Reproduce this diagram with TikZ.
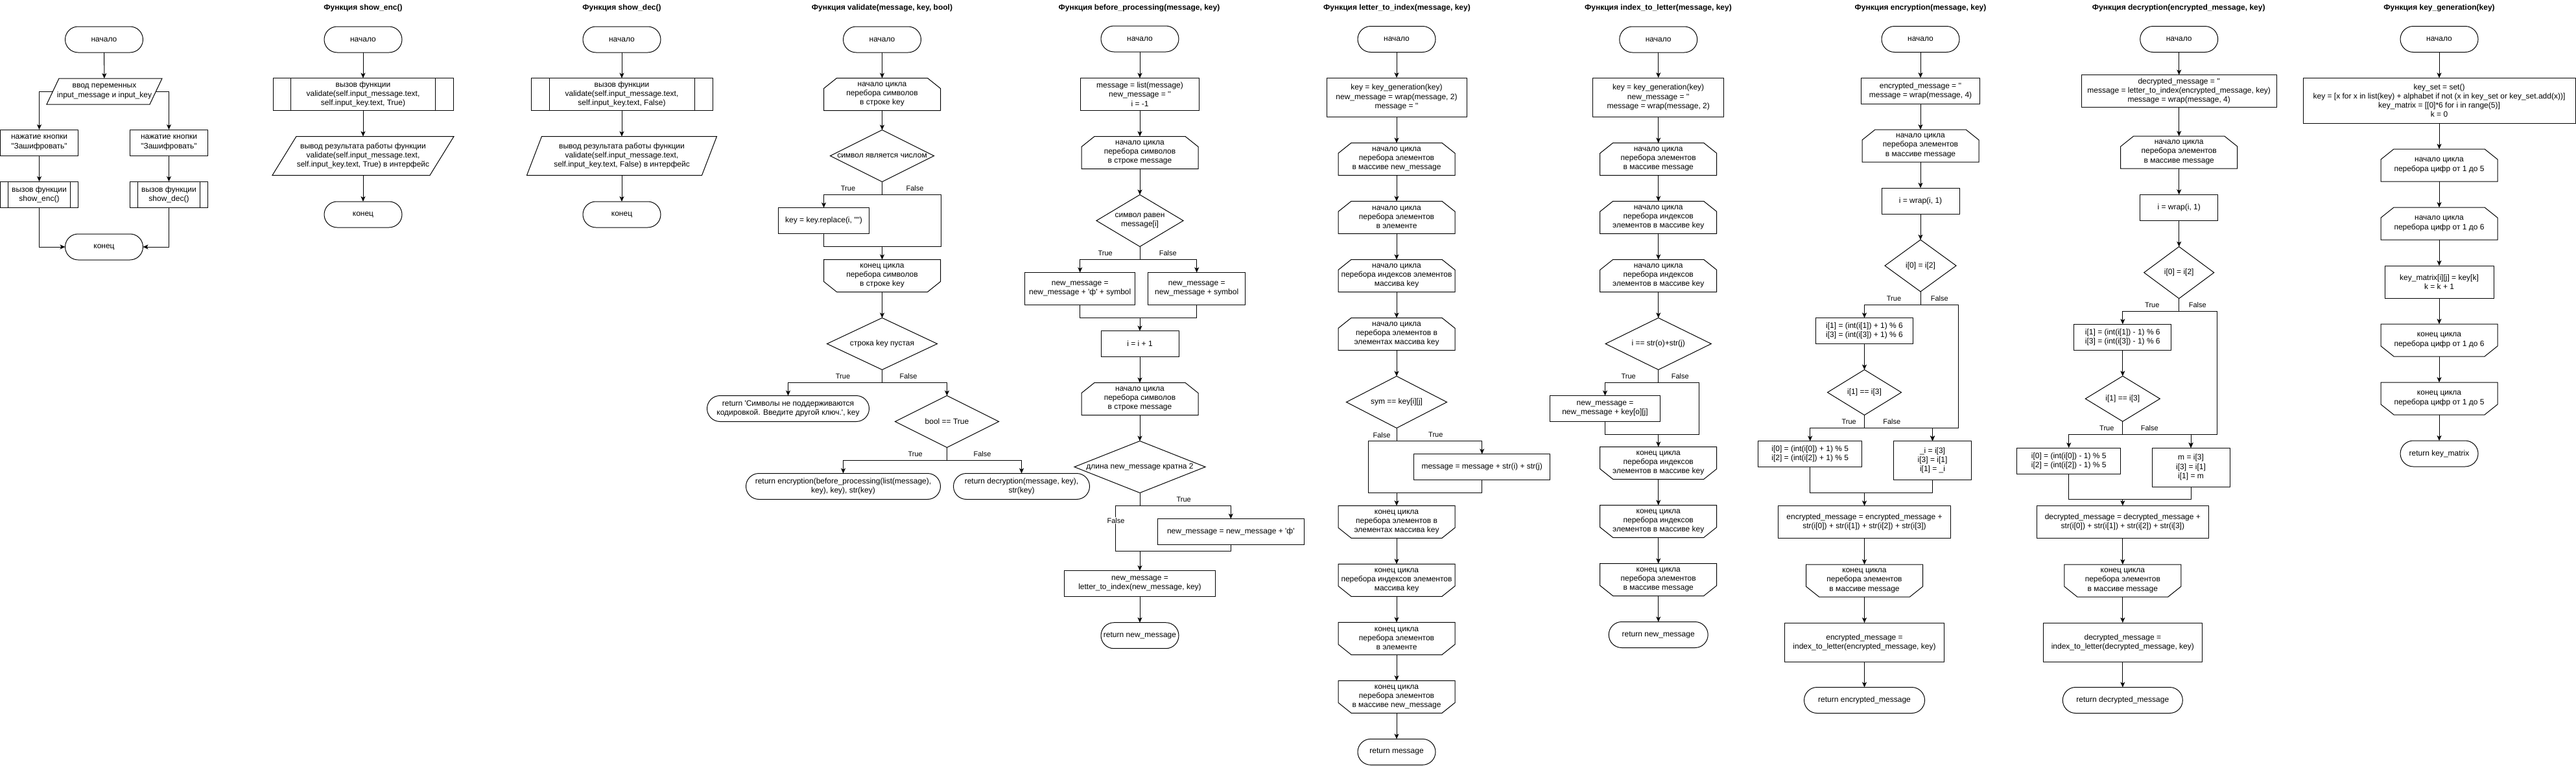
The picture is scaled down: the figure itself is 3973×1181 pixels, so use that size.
\documentclass[tikz,border=0pt]{standalone}
\usepackage{fontspec}
\newfontfamily\fcfont{Liberation Sans}
\usetikzlibrary{arrows.meta}
\newcommand\fcbody{\fcfont\fontsize{12}{14.2}\selectfont}
\newcommand\fclab{\fcfont\fontsize{11}{13}\selectfont}
\newcommand\fctitle{\fcfont\bfseries\fontsize{12}{14}\selectfont}
\tikzset{
  base/.style={inner sep=0pt, outer sep=0pt, align=center, font=\fcbody},
  proc/.style={base, draw, line width=1pt},
  term/.style={proc, rounded corners=20pt},
  shp/.style={draw, line width=1pt, line join=miter},
  ln/.style={line width=1pt},
  arr/.style={line width=1pt, -{Stealth[length=8pt,width=7pt,inset=2pt]}},
  lbl/.style={font=\fclab, inner sep=1pt},
  lblw/.style={lbl, fill=white},
  ttl/.style={font=\fctitle, inner sep=0pt},
}
\newcommand\fcTerm[6]{\node[term,minimum width=#4,minimum height=#5] (#1) at (#2,#3) {#6};}
\newcommand\fcProc[6]{\node[proc,minimum width=#4,minimum height=#5] (#1) at (#2,#3) {#6};}
\newcommand\fcSub[6]{\node[proc,minimum width=#4,minimum height=#5] (#1) at (#2,#3) {#6};
  \draw[shp] ([xshift={#4/10}]#1.north west) -- ([xshift={#4/10}]#1.south west)
             ([xshift={-#4/10}]#1.north east) -- ([xshift={-#4/10}]#1.south east);}
\newcommand\fcDia[6]{\node[base,minimum width=#4,minimum height=#5] (#1) at (#2,#3) {#6};
  \draw[shp] (#1.north) -- (#1.east) -- (#1.south) -- (#1.west) -- cycle;}
\newcommand\fcLoopS[6]{\node[base,minimum width=#4,minimum height=#5] (#1) at (#2,#3) {#6};
  \draw[shp] ([xshift=20]#1.north west) -- ([xshift=-20]#1.north east) -- ([yshift=-16]#1.north east)
     -- (#1.south east) -- (#1.south west) -- ([yshift=-16]#1.north west) -- cycle;}
\newcommand\fcLoopE[6]{\node[base,minimum width=#4,minimum height=#5] (#1) at (#2,#3) {#6};
  \draw[shp] (#1.north west) -- (#1.north east) -- ([yshift=16]#1.south east)
     -- ([xshift=-20]#1.south east) -- ([xshift=20]#1.south west) -- ([yshift=16]#1.south west) -- cycle;}
% name, x, y, mid width, height, slant, text
\newcommand\fcPara[7]{\node[base,minimum width=#4,minimum height=#5] (#1) at (#2,#3) {#7};
  \draw[shp] ([xshift={#6/2}]#1.north west) -- ([xshift={#6/2}]#1.north east)
     -- ([xshift={-#6/2}]#1.south east) -- ([xshift={-#6/2}]#1.south west) -- cycle;}
\begin{document}
\begin{tikzpicture}[x=1pt,y=-1pt]
\useasboundingbox (0,0) rectangle (3973,1181);
\fill[white] (0,0) rectangle (3973,1181);

% ================= main
\fcTerm{m0}{160.5}{61}{120}{40}{начало}
\fcPara{m1}{161}{141}{159}{40}{19}{ввод переменных\\input\_message и input\_key}
\fcProc{m2}{60.5}{220}{120}{40}{нажатие кнопки\\"Зашифровать"}
\fcProc{m3}{260.5}{220}{120}{40}{нажатие кнопки\\"Зашифровать"}
\fcSub{m4}{60.5}{300}{120}{40}{вызов функции\\show\_enc()}
\fcSub{m5}{260.5}{300}{120}{40}{вызов функции\\show\_dec()}
\fcTerm{m6}{160.5}{381}{120}{40}{конец}
\draw[arr] (m0) -- (m1);
\draw[arr] (m1.west) -| (m2.north);
\draw[arr] (m1.east) -| (m3.north);
\draw[arr] (m2) -- (m4);
\draw[arr] (m3) -- (m5);
\draw[arr] (m4.south) |- (m6.west);
\draw[arr] (m5.south) |- (m6.east);

% ================= show_enc
\node[ttl] (ta) at (560,12) {Функция show\_enc()};
\fcTerm{a0}{560}{61}{120}{40}{начало}
\fcSub{a1}{560}{145.5}{278}{50}{вызов функции\\validate(self.input\_message.text,\\self.input\_key.text, True)}
\fcPara{a2}{560}{240.5}{243}{60}{37}{вывод результата работы функции\\validate(self.input\_message.text,\\self.input\_key.text, True) в интерфейс}
\fcTerm{a3}{560}{331}{120}{40}{конец}
\draw[arr] (a0) -- (a1);
\draw[arr] (a1) -- (a2);
\draw[arr] (a2) -- (a3);

% ================= show_dec
\node[ttl] (tb) at (959,12) {Функция show\_dec()};
\fcTerm{b0}{959}{61}{120}{40}{начало}
\fcSub{b1}{959}{145.5}{280}{50}{вызов функции\\validate(self.input\_message.text,\\self.input\_key.text, False)}
\fcPara{b2}{959}{240.5}{270}{60}{23}{вывод результата работы функции\\validate(self.input\_message.text,\\self.input\_key.text, False) в интерфейс}
\fcTerm{b3}{959}{331}{120}{40}{конец}
\draw[arr] (b0) -- (b1);
\draw[arr] (b1) -- (b2);
\draw[arr] (b2) -- (b3);

% ================= validate
\node[ttl] (tv) at (1360.5,12) {Функция validate(message, key, bool)};
\fcTerm{v0}{1360.5}{61}{120}{40}{начало}
\fcLoopS{v1}{1360.5}{145.5}{180}{50}{начало цикла\\перебора символов\\в строке key}
\fcDia{v2}{1360.5}{240.5}{160}{80}{символ является числом}
\fcProc{v3}{1270.5}{340.5}{140}{40}{key = key.replace(i, "")}
\coordinate (v3j) at (1360.5,380);
\coordinate (v3r) at (1451,380);
\fcLoopE{v4}{1360.5}{425.5}{180}{50}{конец цикла\\перебора символов\\в строке key}
\fcDia{v5}{1360.5}{530.5}{170}{80}{строка key пустая}
\fcTerm{v6}{1215.5}{630.5}{250}{40}{return 'Символы не поддерживаются\\кодировкой. Введите другой ключ.', key}
\fcDia{v7}{1460.5}{650.5}{160}{80}{bool == True}
\fcTerm{v8}{1300.5}{750.5}{300}{40}{return encryption(before\_processing(list(message),\\key), key), str(key)}
\fcTerm{v9}{1575.5}{750.5}{210}{40}{return decryption(message, key),\\str(key)}
\draw[arr] (v0) -- (v1);
\draw[arr] (v1) -- (v2);
\draw[arr] (v2.south) -- ++(0,20) -| (v3.north);
\draw[ln] (v2.south) -- ++(0,20) -| (v3r) -- (v3j);
\draw[ln] (v3.south) |- (v3j);
\draw[arr] (v3j) -- (v4.north);
\draw[arr] (v4) -- (v5);
\draw[arr] (v5.south) -- ++(0,20) -| (v6.north);
\draw[arr] (v5.south) -- ++(0,20) -| (v7.north);
\draw[arr] (v7.south) -- ++(0,20) -| (v8.north);
\draw[arr] (v7.south) -- ++(0,20) -| (v9.north);
\node[lbl] (vl1) at (1308,291) {True};
\node[lbl] (vl2) at (1411,291) {False};
\node[lbl] (vl3) at (1300,581) {True};
\node[lbl] (vl4) at (1401,581) {False};
\node[lbl] (vl5) at (1411.7,701) {True};
\node[lbl] (vl6) at (1515,701) {False};

% ================= before_processing
\node[ttl] (tp) at (1757,12) {Функция before\_processing(message, key)};
\fcTerm{p0}{1758}{60}{120}{40}{начало}
\fcProc{p1}{1758}{145.5}{183}{50}{message = list(message)\\new\_message = ''\\i = -1}
\fcLoopS{p2}{1758}{235.5}{180}{50}{начало цикла\\перебора символов\\в строке message}
\fcDia{p3}{1758}{340.5}{134}{80}{символ равен\\message[i]}
\fcProc{p4}{1665.7}{445.5}{170}{50}{new\_message =\\new\_message + 'ф' + symbol}
\fcProc{p5}{1845.7}{445.5}{150}{50}{new\_message =\\new\_message + symbol}
\coordinate (p45) at (1758,490.5);
\fcProc{p6}{1758}{530.5}{120}{40}{i = i + 1}
\fcLoopS{p7}{1758}{615.5}{180}{50}{начало цикла\\перебора символов\\в строке message}
\fcDia{p8}{1758}{720.5}{202}{80}{длина new\_message кратна 2}
\fcProc{p9}{1898.3}{820.5}{226}{40}{new\_message = new\_message + 'ф'}
\coordinate (p8l) at (1720.7,850.5);
\coordinate (p9j) at (1758,850.5);
\fcProc{p10}{1758}{900.5}{233}{40}{new\_message =\\letter\_to\_index(new\_message, key)}
\fcTerm{p11}{1758}{980.7}{120}{40}{return new\_message}
\draw[arr] (p0) -- (p1);
\draw[arr] (p1) -- (p2);
\draw[arr] (p2) -- (p3);
\draw[arr] (p3.south) -- ++(0,20) -| (p4.north);
\draw[arr] (p3.south) -- ++(0,20) -| (p5.north);
\draw[ln] (p4.south) |- (p45);
\draw[ln] (p5.south) |- (p45);
\draw[arr] (p45) -- (p6.north);
\draw[arr] (p6) -- (p7);
\draw[arr] (p7) -- (p8);
\draw[arr] (p8.south) -- ++(0,20) -| (p9.north);
\draw[ln] (p8.south) -- ++(0,20) -| (p8l) -- (p9j);
\draw[ln] (p9.south) |- (p9j);
\draw[arr] (p9j) -- (p10.north);
\draw[arr] (p10) -- (p11);
\node[lbl] (pl1) at (1704.7,391) {True};
\node[lbl] (pl2) at (1801.3,391) {False};
\node[lbl] (pl3) at (1825.7,770.7) {True};
\node[lblw] (pl4) at (1721,803.3) {False};

% ================= letter_to_index
\node[ttl] (tl) at (2154.5,12) {Функция letter\_to\_index(message, key)};
\fcTerm{l0}{2154}{60.5}{120}{40}{начало}
\fcProc{l1}{2154}{150}{216}{60}{key = key\_generation(key)\\new\_message = wrap(message, 2)\\message = ''}
\fcLoopS{l2}{2154}{245.5}{180}{50}{начало цикла\\перебора элементов\\в массиве new\_message}
\fcLoopS{l3}{2154}{335.5}{180}{50}{начало цикла\\перебора элементов\\в элементе}
\fcLoopS{l4}{2154}{425.5}{180}{50}{начало цикла\\перебора индексов элементов\\массива key}
\fcLoopS{l5}{2154}{515.5}{180}{50}{начало цикла\\перебора элементов в\\элементах массива key}
\fcDia{l6}{2154}{620.5}{155}{80}{sym == key[i][j]}
\fcProc{l7}{2285.7}{720.5}{210}{40}{message = message + str(i) + str(j)}
\coordinate (l6l) at (2110.3,760.3);
\coordinate (l7j) at (2154,760.3);
\fcLoopE{l8}{2154}{805.3}{180}{50}{конец цикла\\перебора элементов в\\элементах массива key}
\fcLoopE{l9}{2154}{895.3}{180}{50}{конец цикла\\перебора индексов элементов\\массива key}
\fcLoopE{l10}{2154}{985.3}{180}{50}{конец цикла\\перебора элементов\\в элементе}
\fcLoopE{l11}{2154}{1075.3}{180}{50}{конец цикла\\перебора элементов\\в массиве new\_message}
\fcTerm{l12}{2154}{1160.3}{120}{40}{return message}
\draw[arr] (l0) -- (l1);
\draw[arr] (l1) -- (l2);
\draw[arr] (l2) -- (l3);
\draw[arr] (l3) -- (l4);
\draw[arr] (l4) -- (l5);
\draw[arr] (l5) -- (l6);
\draw[arr] (l6.south) -- ++(0,20) -| (l7.north);
\draw[ln] (l6.south) -- ++(0,20) -| (l6l) -- (l7j);
\draw[ln] (l7.south) |- (l7j);
\draw[arr] (l7j) -- (l8.north);
\draw[arr] (l8) -- (l9);
\draw[arr] (l9) -- (l10);
\draw[arr] (l10) -- (l11);
\draw[arr] (l11) -- (l12);
\node[lbl] (ll1) at (2131,671.2) {False};
\node[lbl] (ll2) at (2214.3,671.2) {True};

% ================= index_to_letter
\node[ttl] (ti) at (2557.5,12) {Функция index\_to\_letter(message, key)};
\fcTerm{i0}{2557.7}{61}{120}{40}{начало}
\fcProc{i1}{2557.7}{150}{202}{60}{key = key\_generation(key)\\new\_message = ''\\message = wrap(message, 2)}
\fcLoopS{i2}{2557.7}{245.5}{180}{50}{начало цикла\\перебора элементов\\в массиве message}
\fcLoopS{i3}{2557.7}{335.5}{180}{50}{начало цикла\\перебора индексов\\элементов в массиве key}
\fcLoopS{i4}{2557.7}{425.5}{180}{50}{начало цикла\\перебора индексов\\элементов в массиве key}
\fcDia{i5}{2557.7}{530.5}{163}{80}{i == str(o)+str(j)}
\fcProc{i6}{2475.5}{630.5}{170}{40}{new\_message =\\new\_message + key[o][j]}
\coordinate (i5r) at (2620.3,670);
\coordinate (i6j) at (2557.7,670);
\fcLoopE{i7}{2557.7}{714.5}{180}{50}{конец цикла\\перебора индексов\\элементов в массиве key}
\fcLoopE{i8}{2557.7}{804.5}{180}{50}{конец цикла\\перебора индексов\\элементов в массиве key}
\fcLoopE{i9}{2557.7}{894.5}{180}{50}{конец цикла\\перебора элементов\\в массиве message}
\fcTerm{i10}{2557.7}{979.5}{153}{40}{return new\_message}
\draw[arr] (i0) -- (i1);
\draw[arr] (i1) -- (i2);
\draw[arr] (i2) -- (i3);
\draw[arr] (i3) -- (i4);
\draw[arr] (i4) -- (i5);
\draw[arr] (i5.south) -- ++(0,20) -| (i6.north);
\draw[ln] (i5.south) -- ++(0,20) -| (i5r) -- (i6j);
\draw[ln] (i6.south) |- (i6j);
\draw[arr] (i6j) -- (i7.north);
\draw[arr] (i7) -- (i8);
\draw[arr] (i8) -- (i9);
\draw[arr] (i9) -- (i10);
\node[lbl] (il1) at (2511.7,580.4) {True};
\node[lbl] (il2) at (2591.3,580.4) {False};

% ================= encryption
\node[ttl] (te) at (2962,12) {Функция encryption(message, key)};
\fcTerm{e0}{2962}{60.5}{120}{40}{начало}
\fcProc{e1}{2962}{140}{183}{40}{encrypted\_message = ''\\message = wrap(message, 4)}
\fcLoopS{e2}{2962}{225}{180}{50}{начало цикла\\перебора элементов\\в массиве message}
\fcProc{e3}{2962}{310}{120}{40}{i = wrap(i, 1)}
\fcDia{e4}{2962}{410}{110}{80}{i[0] = i[2]}
\fcProc{e5}{2875.5}{510.5}{150}{40}{i[1] = (int(i[1]) + 1) \% 6\\i[3] = (int(i[3]) + 1) \% 6}
\fcDia{e6}{2875.5}{605.5}{114}{70}{i[1] == i[3]}
\coordinate (e4r) at (3020.3,660.5);
\fcProc{e7}{2791.7}{700.5}{160}{40}{i[0] = (int(i[0]) + 1) \% 5\\i[2] = (int(i[2]) + 1) \% 5}
\fcProc{e8}{2980.5}{710.5}{120}{60}{\_i = i[3]\\i[3] = i[1]\\i[1] = \_i}
\coordinate (e78) at (2875.5,760);
\fcProc{e9}{2875.5}{805.5}{266}{50}{encrypted\_message = encrypted\_message +\\str(i[0]) + str(i[1]) + str(i[2]) + str(i[3])}
\fcLoopE{e10}{2875.5}{896}{180}{50}{конец цикла\\перебора элементов\\в массиве message}
\fcProc{e11}{2875.5}{991}{246}{60}{encrypted\_message =\\index\_to\_letter(encrypted\_message, key)}
\fcTerm{e12}{2875.5}{1080.5}{186}{40}{return encrypted\_message}
\draw[arr] (e0) -- (e1);
\draw[arr] (e1) -- (e2);
\draw[arr] (e2) -- (e3);
\draw[arr] (e3) -- (e4);
\draw[arr] (e4.south) -- ++(0,20) -| (e5.north);
\draw[arr] (e4.south) -- ++(0,20) -| (e4r) -| (e8.north);
\draw[arr] (e5) -- (e6);
\draw[arr] (e6.south) -- ++(0,20) -| (e7.north);
\draw[arr] (e6.south) -- ++(0,20) -| (e8.north);
\draw[ln] (e7.south) |- (e78);
\draw[ln] (e8.south) |- (e78);
\draw[arr] (e78) -- (e9.north);
\draw[arr] (e9) -- (e10);
\draw[arr] (e10) -- (e11);
\draw[arr] (e11) -- (e12);
\node[lbl] (el1) at (2921,461) {True};
\node[lbl] (el2) at (2991.3,461) {False};
\node[lbl] (el3) at (2851.7,651) {True};
\node[lbl] (el4) at (2917.7,651) {False};

% ================= decryption
\node[ttl] (td) at (3360.2,12) {Функция decryption(encrypted\_message, key)};
\fcTerm{d0}{3360.7}{60.5}{120}{40}{начало}
\fcProc{d1}{3360.7}{140.5}{301}{50}{decrypted\_message = ''\\message = letter\_to\_index(encrypted\_message, key)\\message = wrap(message, 4)}
\fcLoopS{d2}{3360.7}{235}{180}{50}{начало цикла\\перебора элементов\\в массиве message}
\fcProc{d3}{3360.7}{320.2}{120}{40}{i = wrap(i, 1)}
\fcDia{d4}{3360.7}{420.6}{108}{80}{i[0] = i[2]}
\fcProc{d5}{3273.8}{520.2}{150}{40}{i[1] = (int(i[1]) - 1) \% 6\\i[3] = (int(i[3]) - 1) \% 6}
\fcDia{d6}{3273.8}{615.3}{115}{70}{i[1] == i[3]}
\coordinate (d4r) at (3419,670.3);
\fcProc{d7}{3190.7}{711}{160}{40}{i[0] = (int(i[0]) - 1) \% 5\\i[2] = (int(i[2]) - 1) \% 5}
\fcProc{d8}{3379}{721}{120}{60}{m = i[3]\\i[3] = i[1]\\i[1] = m}
\coordinate (d78) at (3273.8,770.3);
\fcProc{d9}{3273.8}{805.3}{265}{50}{decrypted\_message = decrypted\_message +\\str(i[0]) + str(i[1]) + str(i[2]) + str(i[3])}
\fcLoopE{d10}{3273.8}{896}{180}{50}{конец цикла\\перебора элементов\\в массиве message}
\fcProc{d11}{3273.8}{991}{245}{60}{decrypted\_message =\\index\_to\_letter(decrypted\_message, key)}
\fcTerm{d12}{3273.8}{1080.5}{185}{40}{return decrypted\_message}
\draw[arr] (d0) -- (d1);
\draw[arr] (d1) -- (d2);
\draw[arr] (d2) -- (d3);
\draw[arr] (d3) -- (d4);
\draw[arr] (d4.south) -- ++(0,20) -| (d5.north);
\draw[arr] (d4.south) -- ++(0,20) -| (d4r) -| (d8.north);
\draw[arr] (d5) -- (d6);
\draw[arr] (d6.south) -- ++(0,20) -| (d7.north);
\draw[arr] (d6.south) -- ++(0,20) -| (d8.north);
\draw[ln] (d7.south) |- (d78);
\draw[ln] (d8.south) |- (d78);
\draw[arr] (d78) -- (d9.north);
\draw[arr] (d9) -- (d10);
\draw[arr] (d10) -- (d11);
\draw[arr] (d11) -- (d12);
\node[lbl] (dl1) at (3319.3,470.7) {True};
\node[lbl] (dl2) at (3389.3,470.7) {False};
\node[lbl] (dl3) at (3249.3,660.8) {True};
\node[lbl] (dl4) at (3315.3,660.8) {False};

% ================= key_generation
\node[ttl] (tk) at (3762,12) {Функция key\_generation(key)};
\fcTerm{k0}{3762}{60.5}{120}{40}{начало}
\fcProc{k1}{3762}{155.3}{420}{70}{key\_set = set()\\key = [x for x in list(key) + alphabet if not (x in key\_set or key\_set.add(x))]\\key\_matrix = [[0]*6 for i in range(5)]\\k = 0}
\fcLoopS{k2}{3762}{255}{180}{50}{начало цикла\\перебора цифр от 1 до 5}
\fcLoopS{k3}{3762}{345}{180}{50}{начало цикла\\перебора цифр от 1 до 6}
\fcProc{k4}{3762}{435}{168}{50}{key\_matrix[i][j] = key[k]\\k = k + 1}
\fcLoopE{k5}{3762}{525}{180}{50}{конец цикла\\перебора цифр от 1 до 6}
\fcLoopE{k6}{3762}{615}{180}{50}{конец цикла\\перебора цифр от 1 до 5}
\fcTerm{k7}{3762}{700}{120}{40}{return key\_matrix}
\draw[arr] (k0) -- (k1);
\draw[arr] (k1) -- (k2);
\draw[arr] (k2) -- (k3);
\draw[arr] (k3) -- (k4);
\draw[arr] (k4) -- (k5);
\draw[arr] (k5) -- (k6);
\draw[arr] (k6) -- (k7);
\end{tikzpicture}
\end{document}
